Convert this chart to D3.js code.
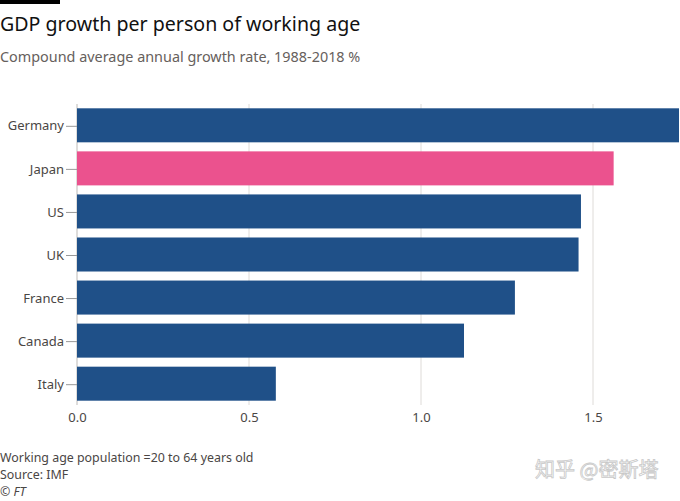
<!DOCTYPE html>
<html><head><meta charset="utf-8">
<script src="https://cdn.jsdelivr.net/npm/d3@7"></script>
<style>body{margin:0;background:#fff;}svg{display:block;font-family:"Noto Sans",sans-serif;}</style>
</head><body><svg id="c" width="680" height="501"></svg>
<script>
const categories = ["Germany","Japan","US","UK","France","Canada","Italy"];
const values = [1.75,1.56,1.465,1.458,1.273,1.125,0.578];
const highlight = ["Japan"];
const tickValues = [0,0.5,1,1.5];
const tickLabels = ["0.0","0.5","1.0","1.5"];

const svg = d3.select("#c");
const x = d3.scaleLinear().domain([0,1.5]).range([77,593]);
const y = d3.scaleBand().domain(categories).range([104,405]).paddingInner(0.21).paddingOuter(0.1);

svg.append("rect").attr("x",0).attr("y",0).attr("width",60).attr("height",4).attr("fill","#000");
svg.append("text").attr("x",0).attr("y",31).attr("font-size",19.6).attr("fill","#111").text("GDP growth per person of working age");
svg.append("text").attr("x",0).attr("y",62).attr("font-size",14.4).attr("fill","#66605c").text("Compound average annual growth rate, 1988-2018 %");

// gridlines
svg.append("g").selectAll("line").data(tickValues).join("line")
  .attr("x1",d=>x(d)).attr("x2",d=>x(d)).attr("y1",104).attr("y2",405)
  .attr("stroke",d=>d===0?"#bdbab7":"#dedbd8").attr("stroke-width",1);

// bars
svg.append("g").selectAll("rect").data(categories).join("rect")
  .attr("x",x(0)).attr("y",d=>y(d)).attr("height",y.bandwidth())
  .attr("width",(d,i)=>x(values[i])-x(0))
  .attr("fill",d=>highlight.includes(d)?"#eb528e":"#1f5088");

// y axis
const ya = svg.append("g").attr("transform",`translate(${x(0)},1)`)
  .call(d3.axisLeft(y).tickSize(11).tickPadding(2));
ya.select(".domain").remove();
ya.selectAll("line").attr("stroke","#999");
ya.selectAll("text").attr("font-size",13).attr("fill","#4a4644").attr("font-family","Noto Sans");

// x axis
const xa = svg.append("g").attr("transform","translate(0,405)")
  .call(d3.axisBottom(x).tickValues(tickValues).tickFormat((d,i)=>tickLabels[i]).tickSize(0).tickPadding(8));
xa.select(".domain").remove();
xa.selectAll("text").attr("font-size",13).attr("fill","#4a4644").attr("font-family","Noto Sans");

// footer
const foot = ["Working age population =20 to 64 years old","Source: IMF"];
svg.append("g").selectAll("text").data(foot).join("text")
  .attr("x",0).attr("y",(d,i)=>462+i*16.5).attr("font-size",12.4).attr("fill","#4a4644").text(d=>d);
svg.append("text").attr("x",0).attr("y",495.5).attr("font-size",12.4).attr("font-style","italic").attr("fill","#4a4644").text("© FT");
svg.append("text").attr("x",535).attr("y",477).attr("font-size",20).attr("fill","none").attr("stroke","#c8c8c8").attr("stroke-width",0.8)
  .attr("font-family","Noto Sans CJK SC").text("知乎 @密斯塔");
</script></body></html>
